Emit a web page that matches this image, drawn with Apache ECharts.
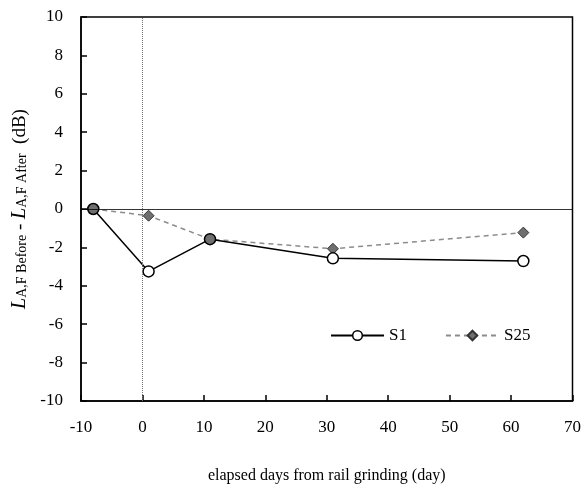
<!DOCTYPE html>
<html>
<head>
<meta charset="utf-8">
<script src="https://cdn.jsdelivr.net/npm/echarts@6/dist/echarts.min.js"></script>
<style>
html, body { margin: 0; padding: 0; background: #fff; }
#chart { width: 584px; height: 489px; }
</style>
</head>
<body>
<div id="chart"></div>
<script>
// elapsed days / level difference (dB)
var daysS1 = [-8, 1, 11, 31, 62];
var valuesS1 = [0, -3.25, -1.57, -2.57, -2.71];
var daysS25 = [-8, 1, 11, 31, 62];
var valuesS25 = [0, -0.35, -1.57, -2.07, -1.23];
var xTicks = [-10, 0, 10, 20, 30, 40, 50, 60, 70];
var yTicks = [-10, -8, -6, -4, -2, 0, 2, 4, 6, 8, 10];

var font = '"Liberation Serif", "Times New Roman", serif';

var dom = document.getElementById('chart');
var myChart = echarts.init(dom);

function pairs(xs, ys) {
    return xs.map(function (x, i) { return [x, ys[i]]; });
}

var option = {
    animation: false,
    textStyle: { fontFamily: font, color: '#000' },
    grid: {
        left: 81,
        right: 11,
        top: 17,
        bottom: 88,
        show: true,
        borderColor: '#000',
        borderWidth: 1.5
    },
    legend: {
        left: 325,
        top: 322,
        itemWidth: 53,
        itemHeight: 12,
        itemGap: 38,
        textStyle: { fontFamily: font, fontSize: 17, color: '#000' },
        data: [
            { name: 'S1', itemStyle: { color: '#fff', borderColor: '#000', borderWidth: 1.5 } },
            { name: 'S25' }
        ]
    },
    xAxis: {
        type: 'value',
        min: xTicks[0],
        max: xTicks[xTicks.length - 1],
        interval: 10,
        name: 'elapsed days from rail grinding (day)',
        nameLocation: 'middle',
        nameGap: 67,
        nameTextStyle: { fontFamily: font, fontSize: 16, color: '#000' },
        axisLine: { onZero: false, lineStyle: { color: '#000', width: 1.5 } },
        axisTick: { inside: true, length: 6, lineStyle: { color: '#000', width: 1.5 } },
        axisLabel: { margin: 18, fontFamily: font, fontSize: 17, color: '#000' },
        splitLine: { show: false }
    },
    yAxis: {
        type: 'value',
        min: yTicks[0],
        max: yTicks[yTicks.length - 1],
        interval: 2,
        name: '{i|L}{s|A,F Before}{n| - }{i|L}{s|A,F After}{n|  (dB)}',
        nameLocation: 'middle',
        nameRotate: 90,
        nameGap: 50,
        nameTextStyle: {
            fontFamily: font,
            color: '#000',
            rich: {
                i: { fontFamily: font, fontSize: 20, fontStyle: 'italic', color: '#000', verticalAlign: 'bottom', lineHeight: 24 },
                s: { fontFamily: font, fontSize: 14, color: '#000', verticalAlign: 'bottom', lineHeight: 19 },
                n: { fontFamily: font, fontSize: 19, color: '#000', verticalAlign: 'bottom', lineHeight: 24 }
            }
        },
        axisLine: { onZero: false, lineStyle: { color: '#000', width: 1.5 } },
        axisTick: { inside: true, length: 6, lineStyle: { color: '#000', width: 1.5 } },
        axisLabel: { margin: 18, fontFamily: font, fontSize: 17, color: '#000' },
        splitLine: { show: false }
    },
    series: [
        {
            name: 'S1',
            type: 'line',
            data: pairs(daysS1, valuesS1),
            symbol: 'circle',
            symbolSize: 11,
            z: 3,
            lineStyle: { color: '#000', width: 1.5 },
            itemStyle: {
                color: function (p) {
                    // points shared with S25 show as grey
                    return valuesS25[p.dataIndex] === valuesS1[p.dataIndex] ? '#6f6f6f' : '#fff';
                },
                borderColor: '#000',
                borderWidth: 1.5
            },
            markLine: {
                silent: true,
                symbol: 'none',
                label: { show: false },
                data: [
                    { yAxis: 0, lineStyle: { color: '#000', width: 0.8, type: 'solid' } },
                    { xAxis: 0, lineStyle: { color: '#777', width: 1, type: [1, 1] } }
                ]
            }
        },
        {
            name: 'S25',
            type: 'line',
            data: pairs(daysS25, valuesS25),
            symbol: 'diamond',
            symbolSize: 11,
            z: 2,
            lineStyle: { color: '#8c8c8c', width: 1.5, type: [5, 4] },
            itemStyle: { color: '#6f6f6f', borderColor: '#333', borderWidth: 1 }
        }
    ]
};

if (option && typeof option === "object") {
    myChart.setOption(option, true);
}
</script>
</body>
</html>
